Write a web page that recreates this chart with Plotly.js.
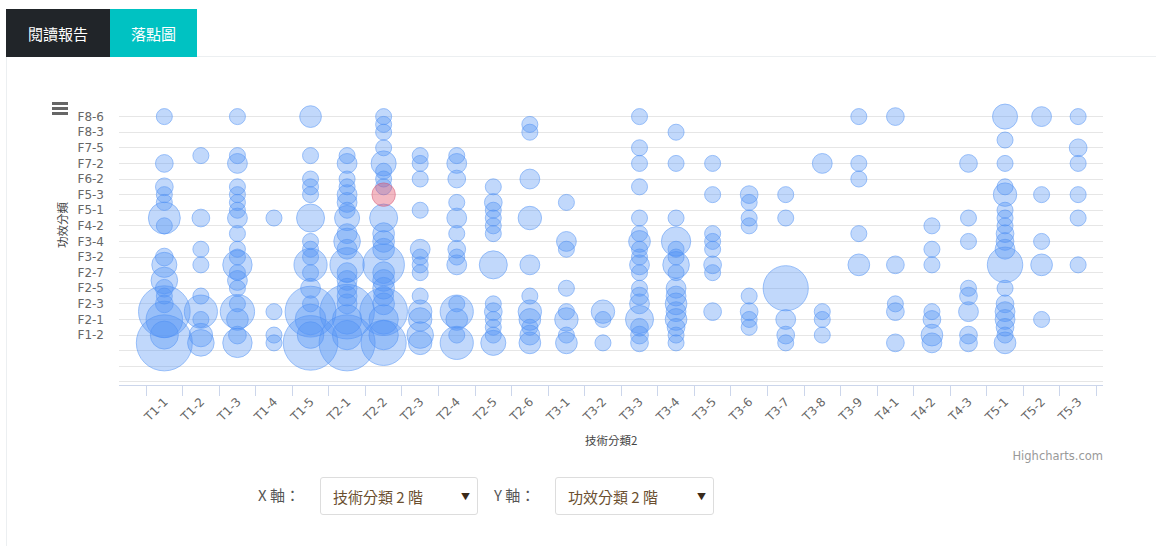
<!DOCTYPE html>
<html>
<head>
<meta charset="utf-8">
<script src="https://cdn.plot.ly/plotly-3.0.1.min.js"></script>
<style>
  html, body { margin:0; padding:0; background:#fff; width:1156px; height:546px; overflow:hidden; }
  .abs { position:absolute; }
  .tab { position:absolute; top:9px; height:48px; color:#fff; font-family:'Noto Sans CJK TC','Noto Sans',sans-serif; font-size:15px; display:flex; align-items:center; justify-content:center; }
  .lbl { position:absolute; top:484px; font-family:'Noto Sans CJK TC','Noto Sans',sans-serif; font-size:15px; color:#555; }
  .sel { position:absolute; top:477px; height:38px; border:1px solid #ddd; border-radius:3px; background:#fff; font-family:'Noto Sans CJK TC','Noto Sans',sans-serif; font-size:15px; color:#6b4f2f; box-sizing:border-box; }
  .sel span.t { position:absolute; left:12px; top:8px; }
  .sel span.a { position:absolute; right:7px; top:12px; font-size:9px; color:#3a2a1a; }
  .bar { position:absolute; left:52px; width:16px; height:2.5px; background:#666; }
</style>
</head>
<body>
<div class="abs" style="left:197px;top:56px;width:959px;height:1px;background:#eceff1;"></div>
<div class="abs" style="left:6px;top:57px;width:1px;height:489px;background:#eceff1;"></div>
<div id="chart" class="abs" style="left:0;top:0;width:1156px;height:546px;"></div>
<div class="tab" style="left:6px;width:104px;background:#212529;">閱讀報告</div>
<div class="tab" style="left:110px;width:87px;background:#00c2c2;">落點圖</div>
<div class="bar" style="top:102px;"></div>
<div class="bar" style="top:107px;"></div>
<div class="bar" style="top:112px;"></div>
<div class="abs" style="left:900px;width:203px;top:449px;text-align:right;font-family:'DejaVu Sans',sans-serif;font-size:11.5px;color:#999;">Highcharts.com</div>
<div class="lbl" style="left:258px;">X 軸：</div>
<div class="sel" style="left:320px;width:158px;"><span class="t">技術分類 2 階</span><span class="a">▼</span></div>
<div class="lbl" style="left:494px;">Y 軸：</div>
<div class="sel" style="left:555px;width:159px;"><span class="t">功效分類 2 階</span><span class="a">▼</span></div>
<script>
// X categories (技術分類2)
const xCategories = ['T1-1','T1-2','T1-3','T1-4','T1-5','T2-1','T2-2','T2-3','T2-4','T2-5','T2-6',
  'T3-1','T3-2','T3-3','T3-4','T3-5','T3-6','T3-7','T3-8','T3-9','T4-1','T4-2','T4-3','T5-1','T5-2','T5-3'];
// Y tick labels shown (every second row level, starting at level 2)
const yTickLabels = ['F1-2','F2-1','F2-3','F2-5','F2-7','F3-2','F3-4','F4-2','F5-1','F5-3','F6-2','F7-2','F7-5','F8-3','F8-6'];

// Row level of each bubble, per x category (same order as xCategories)
const rowsByColumn = [
  [30,24,21,20,19,17,16,12,11,9,8,7,6,5,4,2,1],
  [25,17,13,11,7,5,4,2,1],
  [30,25,24,21,20,19,18,17,15,13,12,11,10,9,8,6,5,4,2,1],
  [17,5,2,1],
  [30,25,22,21,20,17,14,13,12,11,10,8,6,5,4,2,1],
  [25,24,22,21,20,19,18,17,15,14,13,11,10,9,8,7,6,5,4,2,1],
  [30,29,28,26,24,23,22,21,17,15,14,13,11,10,9,8,7,6,5,4,2,1],
  [25,24,22,18,13,12,11,10,7,5,4,2,1],
  [25,24,22,19,17,15,13,12,11,6,5,4,2,1],
  [21,19,18,17,16,15,11,6,5,4,3,2,1],
  [29,28,22,17,11,7,5,4,3,2,1],
  [19,14,13,8,5,4,2,1],
  [5,4,1],
  [30,26,24,21,17,15,14,13,12,11,10,8,7,6,4,3,2,1],
  [28,24,17,14,13,12,11,10,8,7,6,5,4,3,2,1],
  [24,20,15,14,13,11,10,5],
  [20,19,17,16,7,5,4,3],
  [20,17,8,4,2,1],
  [24,5,4,2],
  [30,24,22,15,11],
  [30,11,6,5,1],
  [16,13,11,5,4,2,1],
  [24,17,14,8,7,5,2,1],
  [30,27,24,21,20,18,17,16,15,14,13,11,8,6,5,4,3,2,1],
  [30,20,14,11,4],
  [30,26,24,20,17,11]
];
// Bubble value (count) of each bubble, aligned with rowsByColumn
const countsByColumn = [
  [1,4,4,1,1,13,1,4,8,9,4,2,4,34,17,10,40],
  [1,4,1,1,1,14,3,7,9],
  [1,1,5,1,1,1,3,5,1,1,1,11,1,5,1,1,15,6,4,11],
  [1,1,1,1],
  [6,1,3,3,1,10,1,1,1,14,3,5,3,33,12,9,38],
  [1,5,3,3,5,5,1,8,5,9,5,15,5,5,5,5,5,38,11,11,40],
  [1,1,1,1,8,1,1,1,10,6,6,6,22,6,6,6,5,6,29,11,11,26],
  [1,1,1,1,5,1,1,3,1,7,7,9,7],
  [1,5,4,3,5,1,4,1,5,3,14,6,1,14],
  [1,4,1,1,1,3,10,1,4,3,1,3,8],
  [1,1,5,7,5,1,7,6,2,5,6],
  [1,5,1,1,1,7,1,6],
  [7,1,1],
  [1,1,1,1,1,1,6,1,1,5,1,1,4,5,10,4,4,4],
  [1,1,1,11,1,1,9,1,5,5,6,5,6,4,1,1],
  [1,1,1,1,1,4,1,4],
  [4,1,1,1,1,4,1,1],
  [1,1,26,5,4,1],
  [5,1,1,1],
  [1,1,1,1,6],
  [4,4,1,4,4],
  [1,1,1,1,4,6,5],
  [4,1,1,1,4,5,4,4],
  [8,1,1,1,7,1,1,1,4,4,5,16,1,4,5,5,4,1,6],
  [5,1,1,6,1],
  [1,4,1,1,1,1]
];
// Highlighted (selected) point
const highlightX = ['T2-2'];
const highlightRow = [20];
const highlightCount = [7];

const bx = [], by = [], bz = [];
xCategories.forEach((c, i) => {
  rowsByColumn[i].forEach((r, j) => { bx.push(i); by.push(r); bz.push(countsByColumn[i][j]); });
});
const maxCount = 40;
const sizeref = 2 * maxCount / (56 * 56);

const traces = [
  { type:'scatter', mode:'markers', x:bx, y:by, hoverinfo:'skip',
    marker:{ size:bz, sizemode:'area', sizeref:sizeref, sizemin:8,
      color:'rgba(79,145,245,0.5)', line:{ color:'rgba(79,145,245,0.8)', width:1 } } },
  { type:'scatter', mode:'markers', x:highlightX.map(c => xCategories.indexOf(c)), y:highlightRow, hoverinfo:'skip',
    marker:{ size:highlightCount, sizemode:'area', sizeref:sizeref, sizemin:8,
      color:'rgba(225,75,100,0.55)', line:{ color:'rgba(215,80,110,0.8)', width:1 } } }
];

const yTickVals = [-4,-2,0], yTickText = ['','',''];
yTickLabels.forEach((t, i) => { yTickVals.push(2 * (i + 1)); yTickText.push(t); });
yTickVals.push(32); yTickText.push('');

const layout = {
  width:1156, height:546,
  margin:{ l:119, r:53, t:101, b:161 },
  paper_bgcolor:'rgba(0,0,0,0)', plot_bgcolor:'rgba(0,0,0,0)',
  showlegend:false,
  font:{ family:'DejaVu Sans, sans-serif', size:12, color:'#666' },
  xaxis:{
    range:[-1.24, 25.68], tickmode:'array', tickvals:xCategories.map((c, i) => i), ticktext:xCategories,
    tickangle:-45, tickfont:{ size:12, color:'#666' }, ticks:'', ticklabelstandoff:4,
    showgrid:false, zeroline:false, showline:true, linecolor:'#ccd6eb', linewidth:1,
    minor:{ tickmode:'linear', tick0:-0.5, dtick:1, ticks:'outside', ticklen:10, tickcolor:'#ccd6eb', tickwidth:1, showgrid:false },
    fixedrange:true
  },
  yaxis:{
    range:[-4.4, 32], tickmode:'array', tickvals:yTickVals, ticktext:yTickText,
    tickfont:{ size:12, color:'#666' }, ticks:'', ticklabelstandoff:14,
    showgrid:true, gridcolor:'#e6e6e6', gridwidth:1, zeroline:false, showline:false, fixedrange:true
  },
  annotations:[
    { xref:'paper', yref:'paper', x:(62 - 119) / 984, y:(385 - 225) / 284, text:'功效分類', showarrow:false,
      textangle:-90, xanchor:'center', yanchor:'middle', font:{ family:'Noto Sans CJK TC', size:11.5, color:'#444' } },
    { xref:'paper', yref:'paper', x:(611 - 119) / 984, y:(385 - 440) / 284, text:'技術分類2', showarrow:false,
      xanchor:'center', yanchor:'middle', font:{ family:'Noto Sans CJK TC', size:11.5, color:'#444' } }
  ]
};

Plotly.newPlot('chart', traces, layout, { displayModeBar:false, staticPlot:true });
</script>
</body>
</html>
